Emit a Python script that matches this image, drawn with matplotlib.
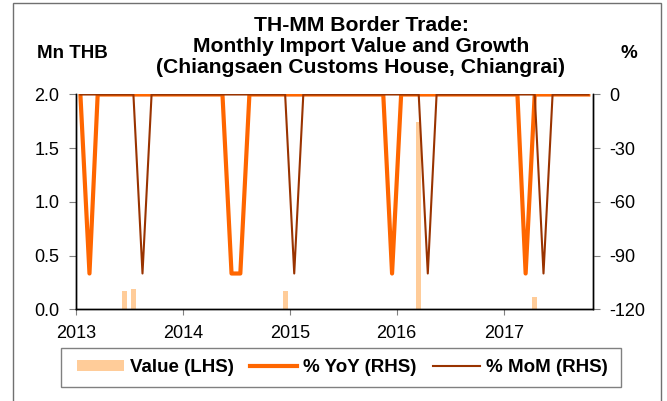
import numpy as np
import pandas as pd
import matplotlib
matplotlib.use('Agg')
import matplotlib.pyplot as plt
import matplotlib.dates as mdates
from matplotlib.patches import Rectangle

plt.rcParams['font.family'] = ['Liberation Sans', 'DejaVu Sans']
plt.rcParams['axes.unicode_minus'] = False

# monthly data, Jan 2013 - Oct 2017
months = pd.date_range('2013-01-01', '2017-10-01', freq='MS')

value_mn = [0, 0, 0, 0, 0, 0.17, 0.19, 0, 0, 0, 0, 0,      # 2013
            0, 0, 0, 0, 0, 0, 0, 0, 0, 0, 0, 0.17,         # 2014
            0, 0, 0, 0, 0, 0, 0, 0, 0, 0, 0, 0,            # 2015
            0, 0, 1.74, 0, 0, 0, 0, 0, 0, 0, 0, 0,         # 2016
            0, 0, 0, 0.11, 0, 0, 0, 0, 0, 0]               # 2017

yoy_pct = [0, -100, 0, 0, 0, 0, 0, 0, 0, 0, 0, 0,
           0, 0, 0, 0, 0, -100, -100, 0, 0, 0, 0, 0,
           0, 0, 0, 0, 0, 0, 0, 0, 0, 0, 0, -100,
           0, 0, 0, 0, 0, 0, 0, 0, 0, 0, 0, 0,
           0, 0, -100, 0, 0, 0, 0, 0, 0, 0]

mom_pct = [0, 0, 0, 0, 0, 0, 0, -100, 0, 0, 0, 0,
           0, 0, 0, 0, 0, 0, 0, 0, 0, 0, 0, 0,
           -100, 0, 0, 0, 0, 0, 0, 0, 0, 0, 0, 0,
           0, 0, 0, -100, 0, 0, 0, 0, 0, 0, 0, 0,
           0, 0, 0, 0, -100, 0, 0, 0, 0, 0]

left_ticks = [0.0, 0.5, 1.0, 1.5, 2.0]
right_ticks = [-120, -90, -60, -30, 0]

W, H = 667, 401
fig = plt.figure(figsize=(W / 100, H / 100), dpi=100)

# axes box in pixels: x 76..593, y 94.5..309.3
ax = fig.add_axes([76 / W, 1 - 309.3 / H, (593 - 76) / W, (309.3 - 94.5) / H])
ax2 = ax.twinx()

x = months + pd.Timedelta(days=15)
bars = ax.bar(x, value_mn, width=17, color='#FFCC99', label='Value (LHS)')
l_yoy, = ax2.plot(x, yoy_pct, color='#FF6600', lw=3, label='% YoY (RHS)')
l_mom, = ax2.plot(x, mom_pct, color='#993300', lw=1.5, label='% MoM (RHS)')

ax.set_xlim(pd.Timestamp('2013-01-01'), pd.Timestamp('2017-11-01'))
ax.set_ylim(0, 2)
ax2.set_ylim(-120, 0)
ax.set_yticks(left_ticks)
ax.set_yticklabels([f'{v:.1f}' for v in left_ticks])
ax2.set_yticks(right_ticks)
ax.xaxis.set_major_locator(mdates.YearLocator())
ax.xaxis.set_major_formatter(mdates.DateFormatter('%Y'))

for a in (ax, ax2):
    a.spines['top'].set_visible(False)
    for s in a.spines.values():
        s.set_color('black')
        s.set_linewidth(1)
ax.tick_params(axis='y', direction='out', length=5, color='#808080', labelsize=13, pad=7)
ax2.tick_params(axis='y', direction='out', length=5, color='#808080', labelsize=13, pad=7)
ax.tick_params(axis='x', direction='out', length=4, color='#808080', labelsize=13, pad=7)

# titles and axis units
title_kw = dict(ha='center', va='baseline', fontsize=15.2, fontweight='bold')
fig.text(361 / W, 1 - 31 / H, 'TH-MM Border Trade:', **title_kw)
fig.text(361 / W, 1 - 52 / H, 'Monthly Import Value and Growth', **title_kw)
fig.text(361 / W, 1 - 73 / H, '(Chiangsaen Customs House, Chiangrai)', **title_kw)
fig.text(72 / W, 1 - 58 / H, 'Mn THB', ha='center', va='baseline', fontsize=13.5,
         fontweight='bold')
fig.text(629 / W, 1 - 58 / H, '%', ha='center', va='baseline', fontsize=13.5,
         fontweight='bold')

# legend box drawn separately, entries placed inside it
fig.patches.append(Rectangle((61 / W, 1 - 387 / H), 560 / W, 39 / H,
                             transform=fig.transFigure, facecolor='white',
                             edgecolor='#808080', lw=1))
leg = fig.legend([bars, l_yoy, l_mom], ['Value (LHS)', '% YoY (RHS)', '% MoM (RHS)'],
                 loc='center left', ncol=3,
                 bbox_to_anchor=(77 / W, 1 - 367.5 / H),
                 prop={'weight': 'bold', 'size': 13.5}, handlelength=2.5,
                 handleheight=0.5, handletextpad=0.3, columnspacing=0.9,
                 frameon=False, borderpad=0, borderaxespad=0)

# outer chart frame
fig.patches.append(Rectangle((13 / W, -0.01), (661 - 13) / W, 0.01 + 1 - 3 / H,
                             transform=fig.transFigure, fill=False,
                             edgecolor='#707070', lw=1))

fig.savefig('out.png', dpi=100)
